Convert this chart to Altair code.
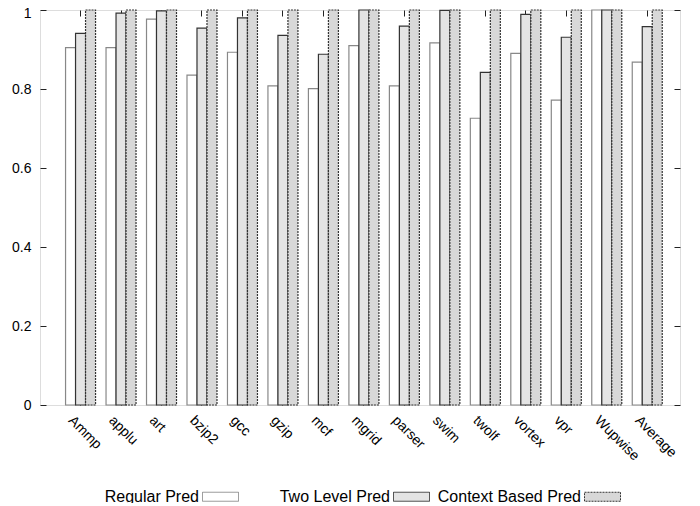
import altair as alt
import pandas as pd

categories = ["Ammp", "applu", "art", "bzip2", "gcc", "gzip", "mcf", "mgrid",
              "parser", "swim", "twolf", "vortex", "vpr", "Wupwise", "Average"]
series = ["Regular Pred", "Two Level Pred", "Context Based Pred"]
regular = [0.905, 0.905, 0.977, 0.835, 0.893, 0.808, 0.801, 0.910,
           0.808, 0.917, 0.726, 0.890, 0.772, 1.000, 0.868]
two_level = [0.941, 0.992, 0.998, 0.954, 0.980, 0.936, 0.888, 1.000,
             0.959, 0.999, 0.842, 0.989, 0.931, 1.000, 0.958]
context = [1.0] * 15
yticks = [0, 0.2, 0.4, 0.6, 0.8, 1.0]

rows = []
for i, c in enumerate(categories):
    for s, vals in zip(series, [regular, two_level, context]):
        rows.append({"bench": c, "pred": s, "value": vals[i]})
df = pd.DataFrame(rows)

FONT = "Liberation Sans"
xscale = alt.Scale(paddingInner=0.259, paddingOuter=0.535, align=0.59)
yscale = alt.Scale(domain=[0, 1], nice=False)

bars = alt.Chart(df).mark_bar(strokeWidth=1.2).encode(
    x=alt.X("bench:N", sort=categories, title=None, scale=xscale,
            axis=alt.Axis(labelAngle=45, labelAlign="left", labelBaseline="top",
                          labelPadding=8, labelOffset=-5, ticks=True, tickSize=6,
                          offset=-6, tickColor="#222", domain=False,
                          labelFont=FONT, labelFontSize=14, labelColor="#000")),
    xOffset=alt.XOffset("pred:N", sort=series, scale=alt.Scale(paddingInner=0, paddingOuter=0)),
    y=alt.Y("value:Q", title=None, scale=yscale,
            axis=alt.Axis(values=yticks, format="~g",
                          ticks=True, tickSize=6, offset=-6, tickColor="#222",
                          domain=False, grid=False, labelPadding=9,
                          labelOffset=alt.condition("datum.value == 1", alt.value(3), alt.value(0)),
                          labelFont=FONT, labelFontSize=14, labelColor="#000")),
    fill=alt.Color("pred:N", sort=series,
                   scale=alt.Scale(domain=series, range=["#ffffff", "#e4e4e4", "#d8d8d8"]),
                   legend=alt.Legend(orient="none", legendX=162, legendY=468,
                                     direction="horizontal", title=None,
                                     symbolType="M-1,-0.25H1V0.25H-1Z", symbolSize=1296,
                                     symbolStrokeWidth=1, labelAlign="right",
                                     labelOffset={"expr": "-40"}, columnPadding=5,
                                     gridAlign="all",
                                     labelFont=FONT, labelFontSize=16, labelColor="#000",
                                     symbolStrokeColor="#555")),
    stroke=alt.Stroke("pred:N", sort=series,
                      scale=alt.Scale(domain=series, range=["#888888", "#333333", "#333333"]),
                      legend=None),
    strokeDash=alt.StrokeDash("pred:N", sort=series,
                              scale=alt.Scale(domain=series, range=[[1, 0], [1, 0], [2, 1]]),
                              legend=None),
)

mirror = alt.Chart(df).mark_bar(opacity=0).encode(
    x=alt.X("bench:N", sort=categories, title=None, scale=xscale,
            axis=alt.Axis(orient="top", labels=False, ticks=True, tickSize=6, offset=-6,
                          tickColor="#222", domain=False)),
    xOffset=alt.XOffset("pred:N", sort=series),
    y=alt.Y("value:Q", title=None, scale=yscale,
            axis=alt.Axis(orient="right", values=yticks, labels=False, ticks=True,
                          tickSize=6, offset=-6, tickColor="#222", domain=False, grid=False)),
)

chart = alt.layer(bars, mirror).resolve_axis(x="independent", y="independent").properties(
    width=640, height=395,
    autosize=alt.AutoSizeParams(type="none"),
    padding={"left": 32, "top": 2, "right": 12, "bottom": 98},
).configure_view(stroke="#888888", strokeWidth=1.2).configure(background="white")

chart.save("out.html", embed_options={"renderer": "svg", "actions": False})
